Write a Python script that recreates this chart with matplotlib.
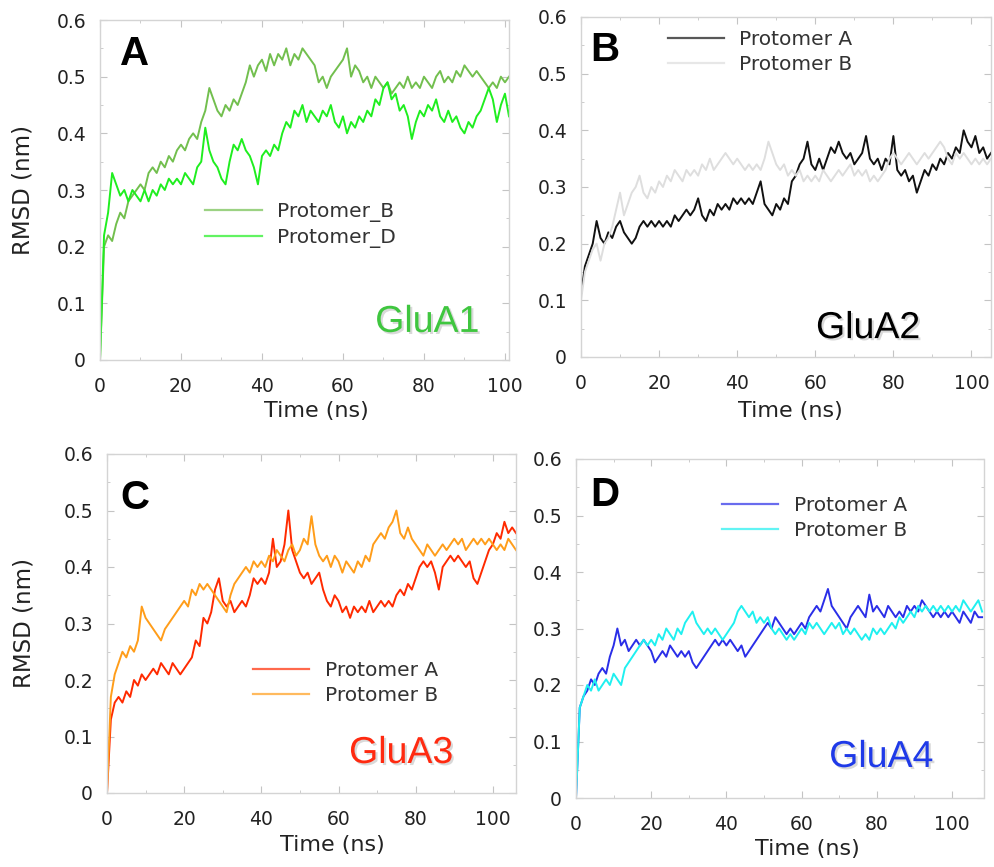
import numpy as np
import matplotlib
matplotlib.use("Agg")
import matplotlib.pyplot as plt
from matplotlib import patheffects as pe
from matplotlib.ticker import MultipleLocator

plt.rcParams['font.family'] = ['DejaVu Sans']

# ---------------- data (RMSD in nm, sampled every 1 ns) ----------------
glua1_protomer_b = [0.00, 0.20, 0.22, 0.21, 0.24, 0.26, 0.25, 0.28, 0.29, 0.30,
                    0.31, 0.30, 0.33, 0.34, 0.33, 0.35, 0.34, 0.36, 0.35, 0.37,
                    0.38, 0.37, 0.39, 0.40, 0.39, 0.42, 0.44, 0.48, 0.46, 0.44,
                    0.43, 0.45, 0.44, 0.46, 0.45, 0.47, 0.49, 0.52, 0.50, 0.52,
                    0.53, 0.51, 0.54, 0.52, 0.54, 0.53, 0.55, 0.52, 0.54, 0.53,
                    0.55, 0.54, 0.53, 0.52, 0.49, 0.50, 0.48, 0.50, 0.51, 0.52,
                    0.53, 0.55, 0.50, 0.52, 0.51, 0.49, 0.50, 0.48, 0.50, 0.49,
                    0.48, 0.49, 0.47, 0.48, 0.49, 0.48, 0.50, 0.48, 0.49, 0.48,
                    0.50, 0.49, 0.48, 0.50, 0.51, 0.49, 0.50, 0.49, 0.51, 0.50,
                    0.52, 0.51, 0.50, 0.51, 0.50, 0.49, 0.48, 0.49, 0.48, 0.50,
                    0.49, 0.50]
glua1_protomer_d = [0.00, 0.22, 0.26, 0.33, 0.31, 0.29, 0.30, 0.28, 0.30, 0.29,
                    0.28, 0.30, 0.28, 0.30, 0.29, 0.31, 0.30, 0.32, 0.31, 0.32,
                    0.31, 0.33, 0.32, 0.31, 0.34, 0.35, 0.41, 0.37, 0.35, 0.34,
                    0.32, 0.31, 0.35, 0.38, 0.37, 0.39, 0.37, 0.36, 0.34, 0.31,
                    0.36, 0.37, 0.36, 0.38, 0.37, 0.40, 0.42, 0.41, 0.44, 0.43,
                    0.45, 0.42, 0.44, 0.43, 0.42, 0.44, 0.43, 0.45, 0.42, 0.41,
                    0.43, 0.40, 0.42, 0.41, 0.43, 0.42, 0.44, 0.43, 0.46, 0.45,
                    0.48, 0.49, 0.46, 0.47, 0.44, 0.45, 0.43, 0.39, 0.42, 0.44,
                    0.43, 0.45, 0.44, 0.46, 0.43, 0.42, 0.44, 0.42, 0.43, 0.41,
                    0.40, 0.42, 0.41, 0.43, 0.44, 0.46, 0.48, 0.46, 0.42, 0.45,
                    0.47, 0.43]

glua2_protomer_a = [0.11, 0.16, 0.18, 0.20, 0.24, 0.21, 0.20, 0.22, 0.21, 0.23,
                    0.24, 0.22, 0.21, 0.20, 0.21, 0.23, 0.24, 0.23, 0.24, 0.23,
                    0.24, 0.23, 0.24, 0.23, 0.25, 0.24, 0.25, 0.26, 0.25, 0.26,
                    0.28, 0.25, 0.24, 0.26, 0.25, 0.27, 0.26, 0.27, 0.26, 0.28,
                    0.27, 0.28, 0.27, 0.28, 0.27, 0.29, 0.31, 0.27, 0.26, 0.25,
                    0.27, 0.26, 0.28, 0.27, 0.31, 0.32, 0.34, 0.35, 0.38, 0.34,
                    0.33, 0.35, 0.33, 0.35, 0.37, 0.36, 0.38, 0.36, 0.35, 0.36,
                    0.34, 0.35, 0.36, 0.39, 0.35, 0.34, 0.35, 0.33, 0.35, 0.34,
                    0.39, 0.33, 0.32, 0.33, 0.31, 0.32, 0.29, 0.31, 0.33, 0.32,
                    0.34, 0.33, 0.35, 0.34, 0.36, 0.35, 0.37, 0.36, 0.40, 0.38,
                    0.37, 0.39, 0.36, 0.37, 0.35, 0.36]
glua2_protomer_b = [0.10, 0.15, 0.17, 0.19, 0.20, 0.17, 0.20, 0.21, 0.23, 0.26,
                    0.29, 0.25, 0.27, 0.29, 0.30, 0.32, 0.29, 0.28, 0.30, 0.29,
                    0.31, 0.30, 0.32, 0.31, 0.33, 0.32, 0.31, 0.33, 0.32, 0.33,
                    0.32, 0.34, 0.33, 0.35, 0.33, 0.34, 0.35, 0.36, 0.35, 0.34,
                    0.35, 0.34, 0.33, 0.34, 0.33, 0.34, 0.33, 0.35, 0.38, 0.36,
                    0.34, 0.33, 0.34, 0.32, 0.33, 0.32, 0.33, 0.31, 0.32, 0.31,
                    0.32, 0.31, 0.33, 0.32, 0.31, 0.32, 0.33, 0.32, 0.33, 0.34,
                    0.32, 0.33, 0.32, 0.33, 0.31, 0.32, 0.31, 0.32, 0.33, 0.35,
                    0.36, 0.35, 0.34, 0.35, 0.36, 0.35, 0.34, 0.35, 0.36, 0.35,
                    0.36, 0.37, 0.38, 0.37, 0.35, 0.34, 0.36, 0.35, 0.36, 0.35,
                    0.34, 0.35, 0.34, 0.35, 0.34, 0.35]

glua3_protomer_a = [0.00, 0.13, 0.16, 0.17, 0.16, 0.18, 0.17, 0.20, 0.19, 0.21,
                    0.20, 0.21, 0.22, 0.21, 0.23, 0.22, 0.21, 0.23, 0.22, 0.21,
                    0.22, 0.23, 0.24, 0.27, 0.26, 0.31, 0.30, 0.32, 0.36, 0.38,
                    0.34, 0.33, 0.34, 0.32, 0.33, 0.34, 0.33, 0.35, 0.38, 0.37,
                    0.38, 0.37, 0.39, 0.45, 0.40, 0.41, 0.44, 0.50, 0.43, 0.41,
                    0.39, 0.38, 0.39, 0.37, 0.38, 0.39, 0.36, 0.34, 0.33, 0.35,
                    0.34, 0.32, 0.33, 0.31, 0.33, 0.32, 0.33, 0.32, 0.34, 0.32,
                    0.33, 0.34, 0.33, 0.34, 0.33, 0.35, 0.36, 0.35, 0.37, 0.36,
                    0.38, 0.40, 0.41, 0.40, 0.41, 0.39, 0.36, 0.40, 0.41, 0.42,
                    0.41, 0.42, 0.41, 0.40, 0.41, 0.38, 0.37, 0.39, 0.41, 0.43,
                    0.44, 0.46, 0.45, 0.48, 0.46, 0.47, 0.46]
glua3_protomer_b = [0.00, 0.17, 0.21, 0.23, 0.25, 0.24, 0.26, 0.25, 0.27, 0.33,
                    0.31, 0.30, 0.29, 0.28, 0.27, 0.29, 0.30, 0.31, 0.32, 0.33,
                    0.34, 0.33, 0.36, 0.35, 0.37, 0.36, 0.37, 0.36, 0.35, 0.34,
                    0.33, 0.32, 0.35, 0.37, 0.38, 0.39, 0.40, 0.39, 0.41, 0.40,
                    0.41, 0.40, 0.42, 0.41, 0.43, 0.42, 0.41, 0.43, 0.44, 0.42,
                    0.43, 0.45, 0.44, 0.49, 0.44, 0.42, 0.41, 0.42, 0.40, 0.42,
                    0.41, 0.39, 0.41, 0.40, 0.39, 0.41, 0.40, 0.42, 0.41, 0.44,
                    0.45, 0.46, 0.45, 0.47, 0.48, 0.50, 0.46, 0.45, 0.47, 0.45,
                    0.44, 0.43, 0.42, 0.44, 0.43, 0.42, 0.43, 0.44, 0.43, 0.44,
                    0.45, 0.44, 0.45, 0.43, 0.44, 0.45, 0.44, 0.45, 0.44, 0.45,
                    0.44, 0.43, 0.44, 0.43, 0.45, 0.44, 0.43]

glua4_protomer_a = [0.00, 0.16, 0.18, 0.19, 0.21, 0.20, 0.22, 0.23, 0.22, 0.25,
                    0.27, 0.30, 0.27, 0.28, 0.26, 0.27, 0.28, 0.27, 0.28, 0.27,
                    0.26, 0.24, 0.25, 0.26, 0.25, 0.27, 0.26, 0.25, 0.26, 0.25,
                    0.26, 0.24, 0.23, 0.24, 0.25, 0.26, 0.27, 0.28, 0.27, 0.28,
                    0.27, 0.28, 0.27, 0.26, 0.27, 0.25, 0.26, 0.27, 0.28, 0.29,
                    0.30, 0.31, 0.30, 0.32, 0.31, 0.30, 0.29, 0.30, 0.29, 0.30,
                    0.31, 0.30, 0.32, 0.33, 0.34, 0.33, 0.35, 0.37, 0.34, 0.33,
                    0.32, 0.31, 0.30, 0.32, 0.33, 0.34, 0.33, 0.32, 0.36, 0.33,
                    0.34, 0.33, 0.32, 0.34, 0.33, 0.32, 0.33, 0.32, 0.34, 0.33,
                    0.34, 0.33, 0.35, 0.34, 0.33, 0.32, 0.33, 0.32, 0.33, 0.32,
                    0.33, 0.32, 0.31, 0.33, 0.32, 0.31, 0.33, 0.32, 0.32]
glua4_protomer_b = [0.00, 0.16, 0.18, 0.20, 0.19, 0.21, 0.19, 0.20, 0.21, 0.20,
                    0.22, 0.21, 0.20, 0.23, 0.24, 0.25, 0.26, 0.27, 0.28, 0.27,
                    0.28, 0.27, 0.29, 0.28, 0.30, 0.29, 0.28, 0.30, 0.29, 0.31,
                    0.32, 0.33, 0.31, 0.30, 0.29, 0.30, 0.29, 0.30, 0.29, 0.28,
                    0.29, 0.30, 0.31, 0.33, 0.34, 0.33, 0.32, 0.33, 0.31, 0.32,
                    0.31, 0.32, 0.30, 0.29, 0.30, 0.29, 0.28, 0.29, 0.28, 0.29,
                    0.30, 0.29, 0.31, 0.30, 0.31, 0.30, 0.29, 0.30, 0.31, 0.30,
                    0.31, 0.29, 0.30, 0.29, 0.30, 0.29, 0.28, 0.29, 0.28, 0.30,
                    0.29, 0.30, 0.29, 0.30, 0.31, 0.30, 0.32, 0.31, 0.32, 0.33,
                    0.32, 0.34, 0.33, 0.34, 0.33, 0.34, 0.33, 0.34, 0.33, 0.34,
                    0.33, 0.34, 0.33, 0.35, 0.34, 0.33, 0.34, 0.35, 0.33]

x_ticks = [0, 20, 40, 60, 80, 100]
y_ticks = [0, 0.1, 0.2, 0.3, 0.4, 0.5, 0.6]

panels = [
    dict(letter="A", name="GluA1", name_color="#3fc63f",
         series=[("Protomer_B", glua1_protomer_b, "#72bf4e"),
                 ("Protomer_D", glua1_protomer_d, "#1fee1f")],
         rect=[100, 20, 509, 360], xlim=(0, 101), ylabel=True,
         leg=(0.257, 0.465), letter_pos=(0.050, 0.90), name_pos=(0.80, 0.112),
         xlabel_pos=(0.53, -0.12), ylabel_pos=-0.159),
    dict(letter="B", name="GluA2", name_color="#000000",
         series=[("Protomer A", glua2_protomer_a, "#111111"),
                 ("Protomer B", glua2_protomer_b, "#dedede")],
         rect=[581, 17, 991, 357], xlim=(0, 105), ylabel=False,
         leg=(0.212, 0.962), letter_pos=(0.023, 0.903), name_pos=(0.70, 0.085),
         xlabel_pos=(0.51, -0.13), ylabel_pos=None),
    dict(letter="C", name="GluA3", name_color="#ff2a10",
         series=[("Protomer A", glua3_protomer_a, "#ff2a00"),
                 ("Protomer B", glua3_protomer_b, "#ff9d1a")],
         rect=[107, 454, 516, 793], xlim=(0, 106), ylabel=True,
         leg=(0.357, 0.390), letter_pos=(0.033, 0.87), name_pos=(0.719, 0.118),
         xlabel_pos=(0.55, -0.124), ylabel_pos=-0.176),
    dict(letter="D", name="GluA4", name_color="#1f3ae8",
         series=[("Protomer A", glua4_protomer_a, "#2a2ee8"),
                 ("Protomer B", glua4_protomer_b, "#1ff0f0")],
         rect=[576, 459, 984, 798], xlim=(0, 108.5), ylabel=False,
         leg=(0.358, 0.892), letter_pos=(0.035, 0.894), name_pos=(0.748, 0.121),
         xlabel_pos=(0.566, -0.12), ylabel_pos=None),
]

W, H = 995, 867
fig = plt.figure(figsize=(W / 100, H / 100), dpi=100)
fig.patch.set_facecolor("white")

spine_col = "#d4d4d4"
text_col = "#222222"

for p in panels:
    x0, y0, x1, y1 = p["rect"]
    ax = fig.add_axes([x0 / W, 1 - y1 / H, (x1 - x0) / W, (y1 - y0) / H])
    for label, vals, col in p["series"]:
        t = np.arange(len(vals))
        ax.plot(t, vals, color=col, lw=1.4, label=label)
    ax.set_xlim(*p["xlim"])
    ax.set_ylim(0, 0.6)
    ax.set_xticks(x_ticks)
    ax.set_yticks(y_ticks)
    ax.set_yticklabels(["0", "0.1", "0.2", "0.3", "0.4", "0.5", "0.6"])
    ax.xaxis.set_minor_locator(MultipleLocator(10))
    ax.yaxis.set_minor_locator(MultipleLocator(0.05))
    for s in ax.spines.values():
        s.set_color(spine_col)
        s.set_linewidth(1.0)
        s.set_linestyle((0, (1, 1)))
    ax.tick_params(which="both", direction="in", top=True, right=True,
                   color="#c4c4c4", labelcolor=text_col)
    ax.tick_params(which="major", length=5, width=0.8, labelsize=13.5)
    ax.tick_params(which="minor", length=2.5, width=0.6)
    ax.tick_params(axis="x", which="major", pad=12)
    ax.tick_params(axis="y", which="major", pad=10)

    ax.set_xlabel("Time (ns)", fontsize=16, color=text_col)
    ax.xaxis.set_label_coords(*p["xlabel_pos"])
    if p["ylabel"]:
        ax.set_ylabel("RMSD (nm)", fontsize=16.5, color=text_col)
        ax.yaxis.set_label_coords(p["ylabel_pos"], 0.5)

    leg = ax.legend(loc="upper left", bbox_to_anchor=p["leg"], frameon=False,
                    fontsize=14.5, handlelength=2.8, handletextpad=0.75,
                    labelspacing=0.3, borderpad=0, borderaxespad=0)
    for txt in leg.get_texts():
        txt.set_color("#333333")
    for ln in leg.get_lines():
        ln.set_linewidth(1.6)
        ln.set_alpha(0.7)

    ax.text(p["letter_pos"][0], p["letter_pos"][1], p["letter"],
            transform=ax.transAxes, family=["Liberation Sans", "DejaVu Sans"],
            fontweight="bold", fontsize=29, color="black", ha="left", va="center")
    ax.text(p["name_pos"][0], p["name_pos"][1], p["name"],
            transform=ax.transAxes, family=["Liberation Sans", "DejaVu Sans"],
            fontsize=27, color=p["name_color"], ha="center", va="center",
            path_effects=[pe.withSimplePatchShadow(offset=(1.5, -1.5),
                                                   shadow_rgbFace="black",
                                                   alpha=0.15)])

fig.savefig("out.png", dpi=100, facecolor="white")
